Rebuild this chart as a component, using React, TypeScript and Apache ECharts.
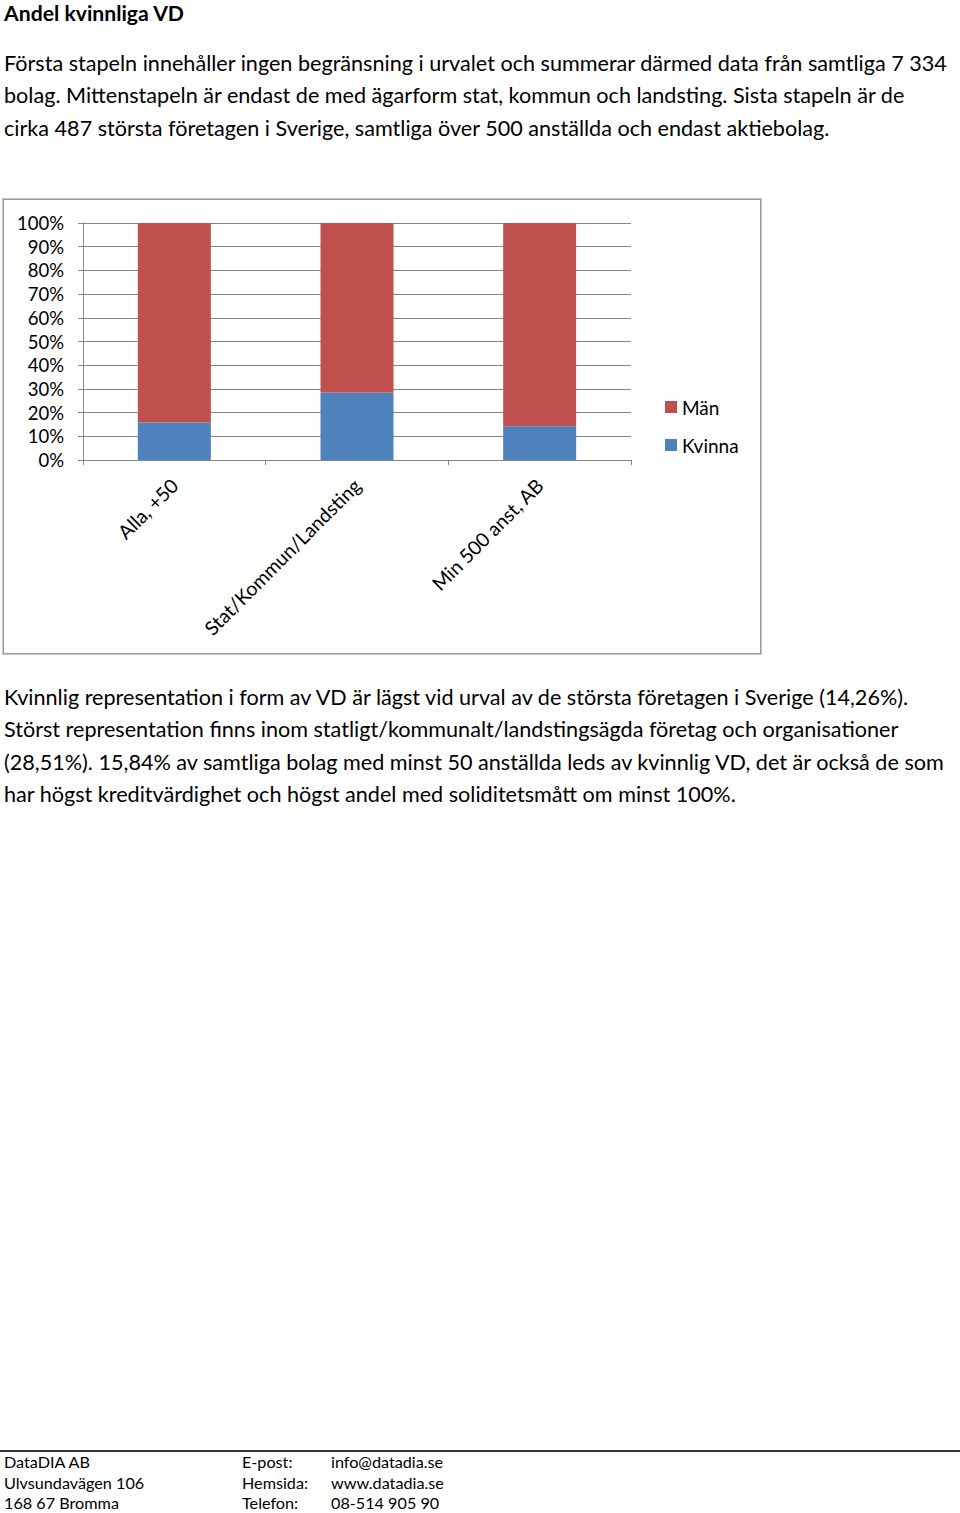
import React, { useEffect, useRef } from "react";
import * as echarts from "echarts";

const categories = ["Alla, +50", "Stat/Kommun/Landsting", "Min 500 anst, AB"];
const kvinna = [15.84, 28.51, 14.26];
const man = [84.16, 71.49, 85.74];
const yTicks = [0, 10, 20, 30, 40, 50, 60, 70, 80, 90, 100];

const title = "Andel kvinnliga VD";
const introLines = [
  "Första stapeln innehåller ingen begränsning i urvalet och summerar därmed data från samtliga 7 334",
  "bolag. Mittenstapeln är endast de med ägarform stat, kommun och landsting. Sista stapeln är de",
  "cirka 487 största företagen i Sverige, samtliga över 500 anställda och endast aktiebolag.",
];
const outroLines = [
  "Kvinnlig representation i form av VD är lägst vid urval av de största företagen i Sverige (14,26%).",
  "Störst representation finns inom statligt/kommunalt/landstingsägda företag och organisationer",
  "(28,51%). 15,84% av samtliga bolag med minst 50 anställda leds av kvinnlig VD, det är också de som",
  "har högst kreditvärdighet och högst andel med soliditetsmått om minst 100%.",
];
const footer = [
  ["DataDIA AB", "E-post:", "info@datadia.se"],
  ["Ulvsundavägen 106", "Hemsida:", "www.datadia.se"],
  ["168 67 Bromma", "Telefon:", "08-514 905 90"],
];

const FONT = "Lato, 'Open Sans', sans-serif";

function Chart() {
  const ref = useRef<HTMLDivElement>(null);
  useEffect(() => {
    if (!ref.current) return;
    const chart = echarts.init(ref.current, undefined, { renderer: "svg" });
    chart.setOption({
      animation: false,
      textStyle: { fontFamily: FONT },
      grid: { left: 79, top: 23, width: 548, height: 237 },
      legend: {
        orient: "vertical",
        left: 656,
        top: 192,
        itemWidth: 12,
        itemHeight: 12,
        itemGap: 18,
        itemStyle: { borderWidth: 0 },
        icon: "rect",
        data: ["Män", "Kvinna"],
        textStyle: { fontSize: 19, color: "#000", fontFamily: FONT, lineHeight: 20 },
      },
      xAxis: {
        type: "category",
        data: categories,
        axisLine: { show: true, lineStyle: { color: "#868686", width: 1 } },
        axisTick: { show: true, alignWithLabel: false, length: 5, lineStyle: { color: "#868686" } },
        axisLabel: { rotate: 45, fontSize: 19.5, color: "#000", margin: 22, fontFamily: FONT, interval: 0 },
      },
      yAxis: {
        type: "value",
        min: 0,
        max: 100,
        interval: 10,
        axisLine: { show: true, lineStyle: { color: "#868686", width: 1 } },
        axisTick: { show: true, length: 5, lineStyle: { color: "#868686" } },
        splitLine: { show: true, lineStyle: { color: "#868686", width: 1 } },
        axisLabel: {
          fontSize: 18.5,
          color: "#000",
          margin: 19,
          fontFamily: FONT,
          formatter: (v: number) => (yTicks.includes(v) ? v + "%" : ""),
        },
      },
      series: [
        {
          name: "Kvinna",
          type: "bar",
          stack: "total",
          data: kvinna,
          barWidth: 73,
          itemStyle: { color: "#4F81BD" },
        },
        {
          name: "Män",
          type: "bar",
          stack: "total",
          data: man,
          barWidth: 73,
          itemStyle: { color: "#C0504D" },
        },
      ],
    });
    return () => chart.dispose();
  }, []);
  return <div ref={ref} style={{ width: 756, height: 453 }} />;
}

export default function App() {
  const line = (t: string, top: number, extra: React.CSSProperties = {}) => (
    <div
      key={t + top}
      style={{ position: "absolute", left: 4, top, whiteSpace: "nowrap", fontSize: 21.6, lineHeight: "24px", ...extra }}
    >
      {t}
    </div>
  );
  return (
    <div
      style={{
        position: "absolute",
        left: 0,
        top: 0,
        width: 960,
        height: 1513,
        background: "#fff",
        fontFamily: FONT,
        color: "#000",
        overflow: "hidden",
      }}
    >
      {line(title, 0, { fontWeight: "bold", fontSize: 21.2, lineHeight: "26px" })}
      {introLines.map((t, i) => line(t, 50.5 + i * 32.5))}
      <div
        style={{
          position: "absolute",
          left: 3,
          top: 199,
          width: 756,
          height: 453,
          border: "1px solid #9a9a9a",
          boxShadow: "0 0 0 1px #c8c8c8",
        }}
      >
        <Chart />
      </div>
      {outroLines.map((t, i) => line(t, 684.5 + i * 32.5))}
      <div style={{ position: "absolute", left: 0, top: 1450, width: 960, height: 2, background: "#333" }} />
      {footer.map((row, i) => (
        <React.Fragment key={i}>
          {[4, 242, 331].map((x, j) => (
            <div
              key={j}
              style={{ position: "absolute", left: x, top: 1453 + i * 20.5, fontSize: 16.2, lineHeight: "18px", whiteSpace: "nowrap" }}
            >
              {row[j]}
            </div>
          ))}
        </React.Fragment>
      ))}
    </div>
  );
}
